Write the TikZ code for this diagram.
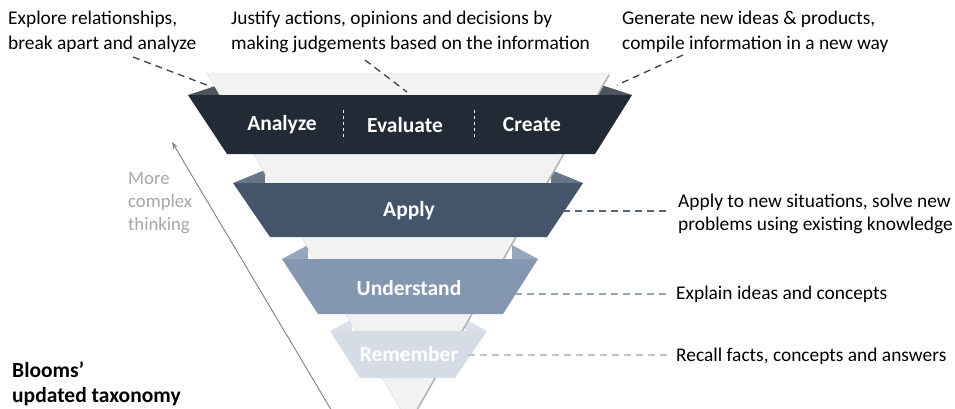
\documentclass[tikz,border=0pt]{standalone}
\usepackage{fontspec}
\setmainfont{Carlito}
\usetikzlibrary{positioning,arrows.meta}

\definecolor{bandA}{HTML}{222A35}
\definecolor{bandB}{HTML}{44546A}
\definecolor{bandC}{HTML}{8497B0}
\definecolor{bandD}{HTML}{D6DCE5}
\definecolor{funnel}{HTML}{F2F2F2}
\definecolor{softgray}{HTML}{A6A6A6}

\begin{document}
\begin{tikzpicture}[x=1pt,y=-1pt,
    lbl/.style={text=white,font=\bfseries\fontsize{21.5}{24}\selectfont},
    note/.style={align=left,inner sep=0pt,font=\fontsize{19.4}{25}\selectfont},
    lead/.style={dashed,dash pattern=on 7pt off 5pt,line width=1.3pt}]
  \useasboundingbox (0,0) rectangle (955,408);

  % flaps behind the funnel
  \fill[bandA!80!white] (188,95) -- ++(40,-13) -- ++(0,13) -- cycle;
  \fill[bandA!80!white] (632,95) -- ++(-40,-13) -- ++(0,13) -- cycle;
  \fill[bandB!80!white] (233,183) -- ++(32,-13) -- ++(0,13) -- cycle;
  \fill[bandB!80!white] (583,183) -- ++(-32,-13) -- ++(0,13) -- cycle;
  \fill[bandC!85!white] (282,259) -- ++(26,-14) -- ++(0,14) -- cycle;
  \fill[bandC!85!white] (538,259) -- ++(-26,-14) -- ++(0,14) -- cycle;
  \fill[bandD!85!white] (330,331) -- ++(22,-12) -- ++(0,12) -- cycle;
  \fill[bandD!85!white] (487,331) -- ++(-22,-12) -- ++(0,12) -- cycle;

  % the funnel
  \filldraw[fill=funnel,draw=black!15] (207,73) -- (610,73) -- (409,424) -- cycle;
  \draw[black!30,line width=1.5pt] (609,75) -- (410,422);

  % bands
  \fill[bandA] (188,95) -- (632,95) -- (595,154) -- (227,154) -- cycle;
  \fill[bandB] (233,183) -- (583,183) -- (547,237) -- (270,237) -- cycle;
  \fill[bandC] (282,259) -- (538,259) -- (503,314) -- (318,314) -- cycle;
  \fill[bandD] (330,331) -- (487,331) -- (455,378) -- (360,378) -- cycle;

  \node[lbl] (analyze) at (282,125) {Analyze};
  \node[lbl] (evaluate) at (405,125) {Evaluate};
  \node[lbl] (create) at (532,125) {Create};
  \node[lbl] (apply) at (409,211) {Apply};
  \node[lbl] (understand) at (409,288) {Understand};
  \node[lbl] (remember) at (409,354) {Remember};

  \draw[white,dashed,line width=1pt] (343,110) -- (343,140);
  \draw[white,dashed,line width=1pt] (474,110) -- (474,140);

  % notes on top
  \node[note,anchor=north west] (n1) at (8,11) {Explore relationships,\\break apart and analyze};
  \node[note,anchor=north west] (n2) at (231,11) {Justify actions, opinions and decisions by\\making judgements based on the information};
  \node[note,anchor=north west] (n3) at (622,11) {Generate new ideas \& products,\\compile information in a new way};

  \coordinate (t1) at (133,57);  \coordinate (e1) at (212,87);
  \coordinate (t2) at (365,60);  \coordinate (e2) at (407,92);
  \coordinate (t3) at (683,55);  \coordinate (e3) at (617,85);
  \draw[lead,black!75] (t1) -- (e1);
  \draw[lead,black!75] (t2) -- (e2);
  \draw[lead,black!75] (t3) -- (e3);

  % notes on the right
  \node[note,anchor=west,font=\fontsize{19.4}{23}\selectfont] (n4) at (678,214) {Apply to new situations, solve new\\problems using existing knowledge};
  \node[note,anchor=west] (n5) at (676,294) {Explain ideas and concepts};
  \node[note,anchor=west] (n6) at (676,356) {Recall facts, concepts and answers};

  \coordinate (s4) at (563,211);
  \coordinate (s5) at (515,294);
  \coordinate (s6) at (468,355);
  \draw[lead,bandB!90!white] (s4) -- ([xshift=-11pt]n4.west |- s4);
  \draw[lead,bandC!85!white] (s5) -- ([xshift=-9pt]n5.west |- s5);
  \draw[lead,bandD!90!black] (s6) -- ([xshift=-9pt]n6.west |- s6);

  % complexity arrow
  \coordinate (low) at (336,418);
  \coordinate (high) at (172,142);
  \draw[black!50,line width=0.9pt,-{Stealth[length=7pt,width=5pt]}] (low) -- (high);
  \node[note,anchor=north west,text=softgray,font=\fontsize{18.7}{23}\selectfont] (more) at (128,172) {More\\complex\\thinking};

  \node[note,anchor=north west,font=\bfseries\fontsize{21.5}{25}\selectfont] (title) at (12,362) {Blooms’\\updated taxonomy};
\end{tikzpicture}
\end{document}
